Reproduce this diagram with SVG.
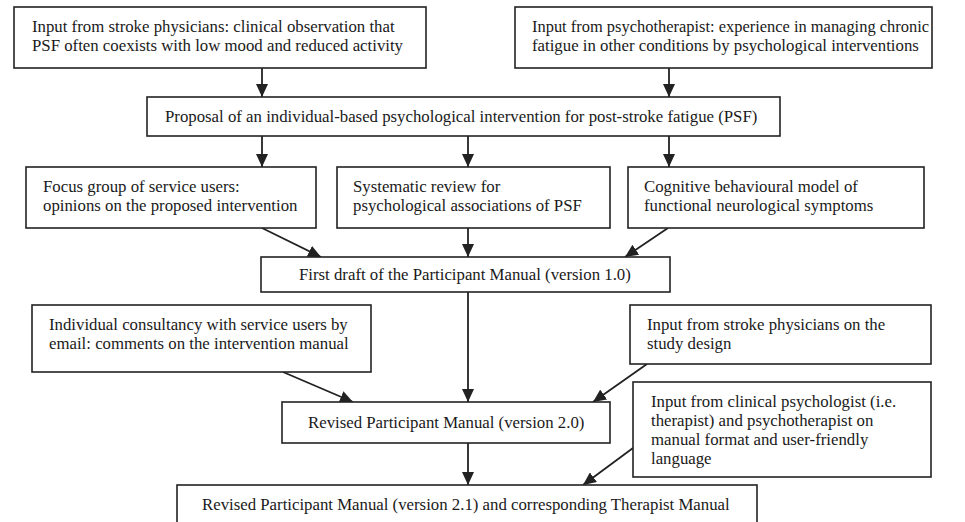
<svg xmlns="http://www.w3.org/2000/svg" width="965" height="522" viewBox="0 0 965 522">
<style>
.box{fill:#fff;stroke:#222;stroke-width:1.6}
.t{font-family:"Liberation Serif","Times New Roman",serif;font-size:16.8px;fill:#1a1a1a}
.c{stroke:#222;stroke-width:1.8;fill:none;marker-end:url(#ah)}
</style>
<defs>
<marker id="ah" markerUnits="userSpaceOnUse" markerWidth="14" markerHeight="12" refX="13" refY="6" orient="auto">
<path d="M0,0 L13,6 L0,12 Z" fill="#222"/>
</marker>
</defs>
<rect width="965" height="522" fill="#fff"/>
<g id="connectors">
<line class="c" x1="262" y1="68" x2="262" y2="97"/>
<line class="c" x1="669" y1="68" x2="669" y2="97"/>
<line class="c" x1="262" y1="136" x2="262" y2="167"/>
<line class="c" x1="468" y1="136" x2="468" y2="167"/>
<line class="c" x1="669" y1="136" x2="669" y2="167"/>
<line class="c" x1="262" y1="228" x2="321" y2="257"/>
<line class="c" x1="468" y1="228" x2="468" y2="257"/>
<line class="c" x1="668" y1="228" x2="625" y2="257"/>
<line class="c" x1="468" y1="292" x2="468" y2="402"/>
<line class="c" x1="283" y1="372" x2="353" y2="402"/>
<line class="c" x1="647" y1="364" x2="593" y2="402"/>
<line class="c" x1="468" y1="443" x2="468" y2="485"/>
<line class="c" x1="633" y1="448" x2="583" y2="485"/>
</g>
<g id="n1"><rect class="box" x="14" y="7" width="412" height="61"/>
<text class="t" x="32" y="32">Input from stroke physicians: clinical observation that</text>
<text class="t" x="32" y="51">PSF often coexists with low mood and reduced activity</text></g>
<g id="n2"><rect class="box" x="515" y="7" width="417" height="61"/>
<text class="t" x="532" y="32" textLength="397" lengthAdjust="spacingAndGlyphs">Input from psychotherapist: experience in managing chronic</text>
<text class="t" x="532" y="51">fatigue in other conditions by psychological interventions</text></g>
<g id="n3"><rect class="box" x="147" y="97" width="633" height="39"/>
<text class="t" x="165" y="122">Proposal of an individual-based psychological intervention for post-stroke fatigue (PSF)</text></g>
<g id="n4"><rect class="box" x="26" y="167" width="290" height="61"/>
<text class="t" x="43" y="192">Focus group of service users:</text>
<text class="t" x="43" y="211">opinions on the proposed intervention</text></g>
<g id="n5"><rect class="box" x="337" y="167" width="273" height="61"/>
<text class="t" x="353" y="192">Systematic review for</text>
<text class="t" x="353" y="211">psychological associations of PSF</text></g>
<g id="n6"><rect class="box" x="628" y="167" width="296" height="61"/>
<text class="t" x="644" y="192">Cognitive behavioural model of</text>
<text class="t" x="644" y="211">functional neurological symptoms</text></g>
<g id="n7"><rect class="box" x="261" y="257" width="409" height="35"/>
<text class="t" x="299" y="280">First draft of the Participant Manual (version 1.0)</text></g>
<g id="n8"><rect class="box" x="32" y="305" width="339" height="67"/>
<text class="t" x="49" y="330">Individual consultancy with service users by</text>
<text class="t" x="49" y="349">email: comments on the intervention manual</text></g>
<g id="n9"><rect class="box" x="630" y="305" width="301" height="59"/>
<text class="t" x="647" y="330">Input from stroke physicians on the</text>
<text class="t" x="647" y="349">study design</text></g>
<g id="n10"><rect class="box" x="282" y="402" width="328" height="41"/>
<text class="t" x="308" y="428">Revised Participant Manual (version 2.0)</text></g>
<g id="n11"><rect class="box" x="633" y="382" width="298" height="95"/>
<text class="t" x="651" y="407">Input from clinical psychologist (i.e.</text>
<text class="t" x="651" y="426">therapist) and psychotherapist on</text>
<text class="t" x="651" y="445">manual format and user-friendly</text>
<text class="t" x="651" y="464">language</text></g>
<g id="n12"><rect class="box" x="177" y="485" width="580" height="45"/>
<text class="t" x="202" y="510">Revised Participant Manual (version 2.1) and corresponding Therapist Manual</text></g>
</svg>
